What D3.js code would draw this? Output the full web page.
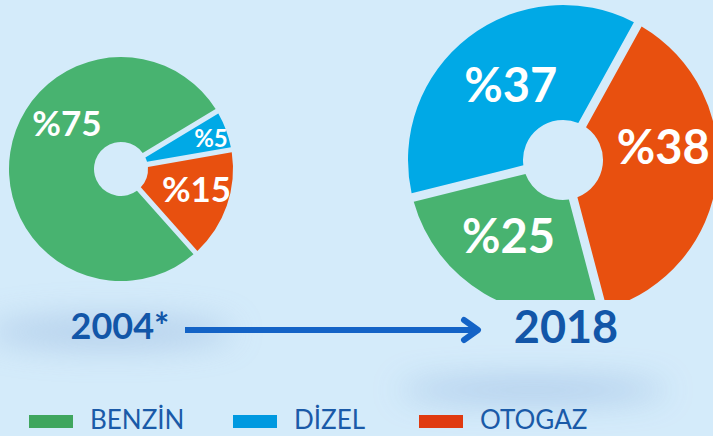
<!DOCTYPE html>
<html>
<head>
<meta charset="utf-8">
<script src="https://cdn.jsdelivr.net/npm/d3@7"></script>
<style>
  html, body { margin: 0; padding: 0; background: #d4ebfa; }
  svg { display: block; font-family: Lato, "Open Sans", sans-serif; }
</style>
</head>
<body>
<svg id="chart"></svg>
<script>
const fuels = ["BENZİN", "DİZEL", "OTOGAZ"];
const years = ["2004*", "2018"];
const share2004 = [75, 5, 15];
const share2018 = [25, 37, 38];

const sliceColors = ["#48b370", "#00a9e6", "#e8500f"];
const legendColors = ["#3fa65e", "#0099e0", "#e03a10"];

const width = 713;
const height = 436;

const svg = d3.select("#chart")
    .attr("width", width)
    .attr("height", height)

const defs = svg.append("defs")
defs.append("filter").attr("id", "blur")
    .attr("filterUnits", "userSpaceOnUse")
    .attr("x", 0).attr("y", 0).attr("width", width).attr("height", height)
    .append("feGaussianBlur").attr("stdDeviation", 16)
defs.append("clipPath").attr("id", "clip2018")
    .append("rect").attr("x", 0).attr("y", 0).attr("width", width).attr("height", 300)

// soft shadows
svg.append("ellipse")
    .attr("cx", 110).attr("cy", 332).attr("rx", 125).attr("ry", 16)
    .attr("fill", "#a9c6e6").attr("opacity", 0.75)
    .attr("filter", "url(#blur)")
svg.append("ellipse")
    .attr("cx", 533).attr("cy", 390).attr("rx", 135).attr("ry", 10)
    .attr("fill", "#9dbde3").attr("opacity", 0.85)
    .attr("filter", "url(#blur)")

// drawing order round the ring: DİZEL, OTOGAZ, BENZİN
const ringOrder = [1, 2, 0];

const charts = [
    {
        year: years[0], values: share2004, cx: 121, cy: 169,
        outer: 112, inner: 27, start: 59, pad: 0.045, labelR: 80,
        fontSize: [35, 24, 35],
        nudge: [[25, -34], [15, -3], [0, -6]],
        clip: null
    },
    {
        year: years[1], values: share2018, cx: 563, cy: 160,
        outer: 155, inner: 40, start: -104, pad: 0.055, labelR: 97,
        fontSize: [47, 47, 47],
        nudge: [[-5, -7], [7, 2], [4, -25]],
        clip: "url(#clip2018)"
    }
]

function drawDonut(c) {
    const rad = Math.PI / 180;
    const data = ringOrder.map(i => ({ index: i, fuel: fuels[i], value: c.values[i] }))

    const pie = d3.pie()
        .sort(null)
        .value(d => d.value)
        .startAngle(c.start * rad)
        .endAngle(c.start * rad + 2 * Math.PI)
        .padAngle(c.pad)

    const arc = d3.arc()
        .innerRadius(c.inner)
        .outerRadius(c.outer)

    const labelArc = d3.arc()
        .innerRadius(c.labelR)
        .outerRadius(c.labelR)

    const g = svg.append("g")
        .attr("clip-path", c.clip)
        .append("g")
        .attr("transform", `translate(${c.cx},${c.cy})`)

    const arcs = pie(data)

    g.selectAll("path")
        .data(arcs)
        .enter()
        .append("path")
        .attr("d", arc)
        .attr("fill", d => sliceColors[d.data.index])

    g.selectAll("text")
        .data(arcs)
        .enter()
        .append("text")
        .attr("x", d => labelArc.centroid(d)[0] + c.nudge[d.data.index][0])
        .attr("y", d => labelArc.centroid(d)[1] + c.nudge[d.data.index][1])
        .attr("dy", "0.36em")
        .attr("text-anchor", "middle")
        .attr("fill", "#fff")
        .attr("font-weight", 700)
        .attr("font-size", d => c.fontSize[d.data.index])
        .text(d => "%" + d.data.value)
}

charts.forEach(drawDonut)

// year captions and arrow
svg.append("text")
    .attr("x", 120).attr("y", 339)
    .attr("text-anchor", "middle")
    .attr("font-size", 36).attr("font-weight", 700)
    .attr("fill", "#1256a8")
    .text(years[0])

svg.append("text")
    .attr("x", 566).attr("y", 343)
    .attr("text-anchor", "middle")
    .attr("font-size", 45).attr("font-weight", 700)
    .attr("fill", "#1256a8")
    .text(years[1])

svg.append("line")
    .attr("x1", 185).attr("y1", 330).attr("x2", 476).attr("y2", 330)
    .attr("stroke", "#1463c6").attr("stroke-width", 6)
svg.append("path")
    .attr("d", "M464,320 L478,330 L464,340")
    .attr("fill", "none")
    .attr("stroke", "#1463c6").attr("stroke-width", 6)
    .attr("stroke-linecap", "round").attr("stroke-linejoin", "round")

// legend
const legendX = d3.scaleOrdinal()
    .domain(fuels)
    .range([29, 233, 419])

const legend = svg.append("g")
    .selectAll("g")
    .data(fuels)
    .enter()
    .append("g")
    .attr("transform", d => `translate(${legendX(d)},415)`)

legend.append("rect")
    .attr("width", 44).attr("height", 13)
    .attr("fill", (d, i) => legendColors[i])

legend.append("text")
    .attr("x", 61).attr("y", 14)
    .attr("font-size", 26)
    .attr("fill", "#1a5aa8")
    .text(d => d)
</script>
</body>
</html>
